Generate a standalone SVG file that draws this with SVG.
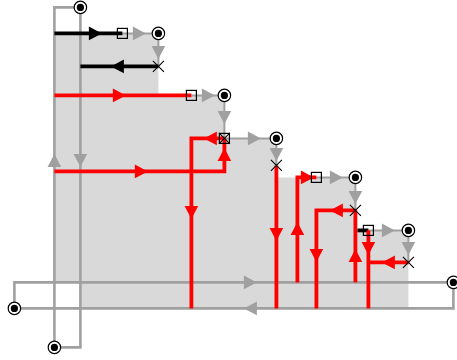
<svg xmlns="http://www.w3.org/2000/svg" xmlns:xlink="http://www.w3.org/1999/xlink" width="457" height="360" viewBox="0 0 457 360">
<style>
.g{fill:none;stroke:#a0a0a0;stroke-width:2.6}
.t{fill:none;stroke:#a0a0a0;stroke-width:2}
.r{fill:none;stroke:#f00;stroke-width:3.8}
.k{fill:none;stroke:#000;stroke-width:3.8}
.ag{fill:#a0a0a0}.ar{fill:#f00}.ak{fill:#000}
.x{fill:none;stroke:#000;stroke-width:1.1}
.b{fill:none;stroke:#000;stroke-width:1.2}
.o{fill:#fff;stroke:#000;stroke-width:1.2}
</style>
<defs>
<polygon id="tri" points="-6.5,-6.8 6.5,0 -6.5,6.8"/>
<g id="term"><circle r="6.2" class="o"/><circle r="3.6" fill="#000"/></g>
<g id="cross"><path class="x" d="M-5.5,-5.5L5.5,5.5M-5.5,5.5L5.5,-5.5"/></g>
</defs>
<g transform="translate(.4,.4)">
<path id="region" fill="#d9d9d9" d="M54,33H158V95H224V138H276V177H355V230H408V308H80V282H54Z"/>
<g id="connectors">
<path class="g" d="M80,7H54V347"/>
<path class="g" d="M80,7V347H54"/>
<path class="g" d="M14,308V282H453"/>
<path class="g" d="M453,282V308H14"/>
<path class="t" d="M122,33H158V66"/>
<path class="t" d="M191,95H224V138H276V165"/>
<path class="t" d="M316,177H355V210"/>
<path class="t" d="M368,230H408V262"/>
<path class="k" d="M54,33H122"/>
<path class="k" d="M158,66H80"/>
<path class="k" d="M357,230H368"/>
<path class="r" d="M54,95H191"/>
<path class="r" d="M54,171H224V138"/>
<path class="r" d="M224,138H191V308"/>
<path class="r" d="M276,165V308"/>
<path class="r" d="M297,282V177H316"/>
<path class="r" d="M355,210H316V308"/>
<path class="r" d="M355,282V210"/>
<path class="r" d="M368,230V308"/>
<path class="r" d="M408,262H369"/>
<g class="ag">
<use href="#tri" transform="translate(54,160) rotate(-90)"/>
<use href="#tri" transform="translate(80,160) rotate(90)"/>
<use href="#tri" transform="translate(250,282)"/>
<use href="#tri" transform="translate(250,308) rotate(180)"/>
<use href="#tri" transform="translate(139,33)"/>
<use href="#tri" transform="translate(158,52) rotate(90)"/>
<use href="#tri" transform="translate(208,95)"/>
<use href="#tri" transform="translate(224,117) rotate(90)"/>
<use href="#tri" transform="translate(254,138)"/>
<use href="#tri" transform="translate(276,154) rotate(90)"/>
<use href="#tri" transform="translate(336,177)"/>
<use href="#tri" transform="translate(355,197) rotate(90)"/>
<use href="#tri" transform="translate(388,230)"/>
<use href="#tri" transform="translate(408,248) rotate(90)"/>
</g>
<g class="ak">
<use href="#tri" transform="translate(95,33)"/>
<use href="#tri" transform="translate(117,66) rotate(180)"/>
</g>
<g class="ar">
<use href="#tri" transform="translate(119,95)"/>
<use href="#tri" transform="translate(141,171)"/>
<use href="#tri" transform="translate(224,154) rotate(-90)"/>
<use href="#tri" transform="translate(210,138) rotate(180)"/>
<use href="#tri" transform="translate(191,212) rotate(90)"/>
<use href="#tri" transform="translate(276,234) rotate(90)"/>
<use href="#tri" transform="translate(297,228) rotate(-90)"/>
<use href="#tri" transform="translate(307,177)"/>
<use href="#tri" transform="translate(336,210) rotate(180)"/>
<use href="#tri" transform="translate(316,255) rotate(90)"/>
<use href="#tri" transform="translate(355,255) rotate(-90)"/>
<use href="#tri" transform="translate(368,248) rotate(90)"/>
<use href="#tri" transform="translate(388,262) rotate(180)"/>
</g>
</g>
<g id="n1"><use href="#term" x="80" y="7"/></g>
<g id="n2"><use href="#term" x="158" y="33"/></g>
<g id="n3"><use href="#term" x="224" y="95"/></g>
<g id="n4"><use href="#term" x="276" y="138"/></g>
<g id="n5"><use href="#term" x="355" y="177"/></g>
<g id="n6"><use href="#term" x="408" y="230"/></g>
<g id="n7"><use href="#term" x="453" y="282"/></g>
<g id="n8"><use href="#term" x="14" y="308"/></g>
<g id="n9"><use href="#term" x="54" y="347"/></g>
<g id="b1"><rect class="b" x="117" y="28" width="10" height="10"/></g>
<g id="b2"><rect class="b" x="186" y="90" width="10" height="10"/></g>
<g id="b3"><rect class="b" x="219" y="133" width="10" height="10"/><use href="#cross" x="224" y="138"/></g>
<g id="b4"><rect class="b" x="311" y="172" width="10" height="10"/></g>
<g id="b5"><rect class="b" x="363" y="225" width="10" height="10"/></g>
<g id="x1"><use href="#cross" x="158" y="66"/></g>
<g id="x2"><use href="#cross" x="276" y="165"/></g>
<g id="x3"><use href="#cross" x="355" y="210"/></g>
<g id="x4"><use href="#cross" x="408" y="262"/></g>
</g>
</svg>
